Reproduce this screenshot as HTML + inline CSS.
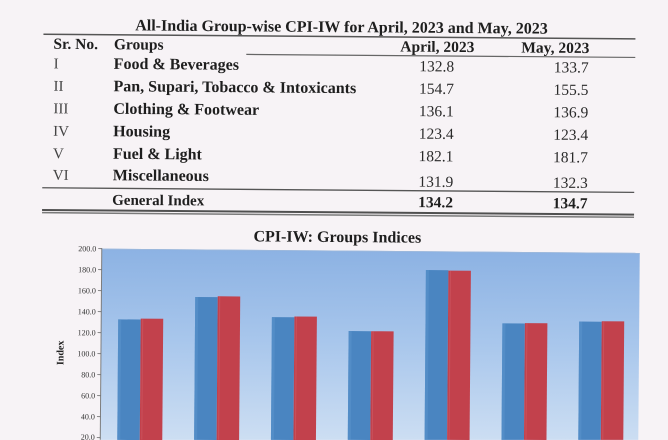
<!DOCTYPE html>
<html>
<head>
<meta charset="utf-8">
<style>
  html, body { margin:0; padding:0; background:#f7f3f6; }
  body { width:668px; height:440px; overflow:hidden; }
  svg { display:block; }
  text { font-family: "Liberation Serif", "Times New Roman", serif; }
</style>
</head>
<body>
<svg width="668" height="440" viewBox="0 0 668 440" xmlns="http://www.w3.org/2000/svg">
  <defs>
    <linearGradient id="bg" x1="0" y1="250" x2="0" y2="460" gradientUnits="userSpaceOnUse">
      <stop offset="0" stop-color="#8cb2e3"/>
      <stop offset="0.45" stop-color="#a9c7ec"/>
      <stop offset="1" stop-color="#d4e3f4"/>
    </linearGradient>
  </defs>
  <rect x="0" y="0" width="668" height="440" fill="#f7f3f6"/>
  <g transform="rotate(0.45 334 220)">
    <!-- Table title -->
    <text x="340" y="32" text-anchor="middle" font-weight="bold" font-size="16" fill="#1e1e1e">All-India Group-wise CPI-IW for April, 2023 and May, 2023</text>
    <!-- top rule -->
    <rect x="42" y="35.8" width="592" height="1.5" fill="#555"/>
    <!-- header -->
    <text x="52" y="51" font-weight="bold" font-size="15.5" fill="#1e1e1e">Sr. No.</text>
    <text x="112.5" y="51" font-weight="bold" font-size="15.5" fill="#1e1e1e">Groups</text>
    <text x="436" y="51" text-anchor="middle" font-weight="bold" font-size="15.5" fill="#1e1e1e">April, 2023</text>
    <text x="554" y="51" text-anchor="middle" font-weight="bold" font-size="15.5" fill="#1e1e1e">May, 2023</text>
    <rect x="245" y="54.5" width="389" height="1.2" fill="#666"/>

    <!-- rows -->
    <g font-size="15" fill="#444">
      <text x="52.5" y="70.6">I</text>
      <text x="52.5" y="93">II</text>
      <text x="52.5" y="115.5">III</text>
      <text x="52.5" y="138">IV</text>
      <text x="52.5" y="160.5">V</text>
      <text x="52.5" y="182">VI</text>
    </g>
    <g font-size="16" font-weight="bold" fill="#1e1e1e">
      <text x="112.5" y="70.6">Food &amp; Beverages</text>
      <text x="112.5" y="93">Pan, Supari, Tobacco &amp; Intoxicants</text>
      <text x="112.5" y="115.5">Clothing &amp; Footwear</text>
      <text x="112.5" y="138">Housing</text>
      <text x="112.5" y="160.5">Fuel &amp; Light</text>
      <text x="112.5" y="182">Miscellaneous</text>
    </g>
    <g font-size="15.5" fill="#2a2a2a" text-anchor="middle">
      <text x="435.5" y="70.6">132.8</text>
      <text x="570" y="70.6">133.7</text>
      <text x="435.5" y="93">154.7</text>
      <text x="570" y="93">155.5</text>
      <text x="435.5" y="115.5">136.1</text>
      <text x="570" y="115.5">136.9</text>
      <text x="435.5" y="138">123.4</text>
      <text x="570" y="138">123.4</text>
      <text x="435.5" y="160.5">182.1</text>
      <text x="570" y="160.5">181.7</text>
      <text x="435.5" y="186">131.9</text>
      <text x="570" y="186">132.3</text>
    </g>
    <rect x="42" y="189.4" width="592" height="1.3" fill="#555"/>
    <text x="112" y="206.5" font-weight="bold" font-size="15" fill="#1e1e1e">General Index</text>
    <text x="435.5" y="206.5" text-anchor="middle" font-weight="bold" font-size="15.5" fill="#1e1e1e">134.2</text>
    <text x="570" y="206.5" text-anchor="middle" font-weight="bold" font-size="15.5" fill="#1e1e1e">134.7</text>
    <!-- double rule -->
    <rect x="42" y="211.3" width="592" height="2" fill="#505050"/>
    <rect x="42" y="214.2" width="592" height="1.5" fill="#7a7a7a"/>

    <!-- Chart -->
    <text x="337.5" y="242" text-anchor="middle" font-weight="bold" font-size="16" fill="#1e1e1e">CPI-IW: Groups Indices</text>
    <polygon points="102,250.5 640,250.5 640,437.5 102,441.7" fill="url(#bg)"/>
    <rect x="102" y="250.5" width="538" height="0.8" fill="#9fb9da"/>
    <line x1="102" y1="250" x2="102" y2="441.6" stroke="#7d7d7d" stroke-width="1"/>

    <!-- y ticks & labels -->
    <g stroke="#6a6a6a" stroke-width="0.8">
      <line x1="98.5" y1="250.5" x2="102" y2="250.5"/>
      <line x1="98.5" y1="271.5" x2="102" y2="271.5"/>
      <line x1="98.5" y1="292.5" x2="102" y2="292.5"/>
      <line x1="98.5" y1="313.5" x2="102" y2="313.5"/>
      <line x1="98.5" y1="334.5" x2="102" y2="334.5"/>
      <line x1="98.5" y1="355.5" x2="102" y2="355.5"/>
      <line x1="98.5" y1="376.5" x2="102" y2="376.5"/>
      <line x1="98.5" y1="397.5" x2="102" y2="397.5"/>
      <line x1="98.5" y1="418.5" x2="102" y2="418.5"/>
      <line x1="98.5" y1="439.5" x2="102" y2="439.5"/>
    </g>
    <g font-size="8" fill="#333" text-anchor="end">
      <text x="96.5" y="253.3">200.0</text>
      <text x="96.5" y="274.3">180.0</text>
      <text x="96.5" y="295.3">160.0</text>
      <text x="96.5" y="316.3">140.0</text>
      <text x="96.5" y="337.3">120.0</text>
      <text x="96.5" y="358.3">100.0</text>
      <text x="96.5" y="379.3">80.0</text>
      <text x="96.5" y="400.3">60.0</text>
      <text x="96.5" y="421.3">40.0</text>
      <text x="96.5" y="441.6">20.0</text>
    </g>
    <text x="0" y="0" transform="translate(64.5 355) rotate(-90)" text-anchor="middle" font-weight="bold" font-size="10" fill="#222">Index</text>

    <!-- bars (bottom edges follow the frame bottom) -->
    <g fill="#4a85c1">
      <polygon points="119,321.06 141.5,321.06 141.5,441.5 119,441.6"/>
      <polygon points="195.83,298.07 218.33,298.07 218.33,440.9 195.83,441.0"/>
      <polygon points="272.66,317.6 295.16,317.6 295.16,440.3 272.66,440.4"/>
      <polygon points="349.5,330.9 372,330.9 372,439.7 349.5,439.8"/>
      <polygon points="426.3,269.3 448.8,269.3 448.8,439.0 426.3,439.2"/>
      <polygon points="503.2,322.0 525.7,322.0 525.7,438.4 503.2,438.6"/>
      <polygon points="580,319.6 602.5,319.6 602.5,437.8 580,438.0"/>
    </g>
    <g fill="#5a93cb" opacity="0.6">
      <rect x="119" y="321.06" width="3" height="120"/>
      <rect x="195.83" y="298.07" width="3" height="142.5"/>
      <rect x="272.66" y="317.6" width="3" height="122.5"/>
      <rect x="349.5" y="330.9" width="3" height="108.5"/>
      <rect x="426.3" y="269.3" width="3" height="169.5"/>
      <rect x="503.2" y="322.0" width="3" height="116.3"/>
      <rect x="580" y="319.6" width="3" height="118"/>
    </g>
    <g fill="#c2414c">
      <polygon points="141.5,320.1 164,320.1 164,441.3 141.5,441.5"/>
      <polygon points="218.33,297.2 240.83,297.2 240.83,440.7 218.33,440.9"/>
      <polygon points="295.16,316.8 317.66,316.8 317.66,440.1 295.16,440.3"/>
      <polygon points="372,330.9 394.5,330.9 394.5,439.5 372,439.7"/>
      <polygon points="448.8,269.7 471.3,269.7 471.3,438.9 448.8,439.0"/>
      <polygon points="525.7,321.6 548.2,321.6 548.2,438.3 525.7,438.4"/>
      <polygon points="602.5,319.1 625,319.1 625,437.6 602.5,437.8"/>
    </g>
    <g fill="#d2606a" opacity="0.5">
      <rect x="143" y="320.1" width="1" height="121"/>
      <rect x="219.83" y="297.2" width="1" height="143.4"/>
      <rect x="296.66" y="316.8" width="1" height="123.3"/>
      <rect x="373.5" y="330.9" width="1" height="108.6"/>
      <rect x="450.3" y="269.7" width="1" height="169.2"/>
      <rect x="527.2" y="321.6" width="1" height="116.7"/>
      <rect x="604" y="319.1" width="1" height="118.5"/>
    </g>
  </g>
</svg>
</body>
</html>
